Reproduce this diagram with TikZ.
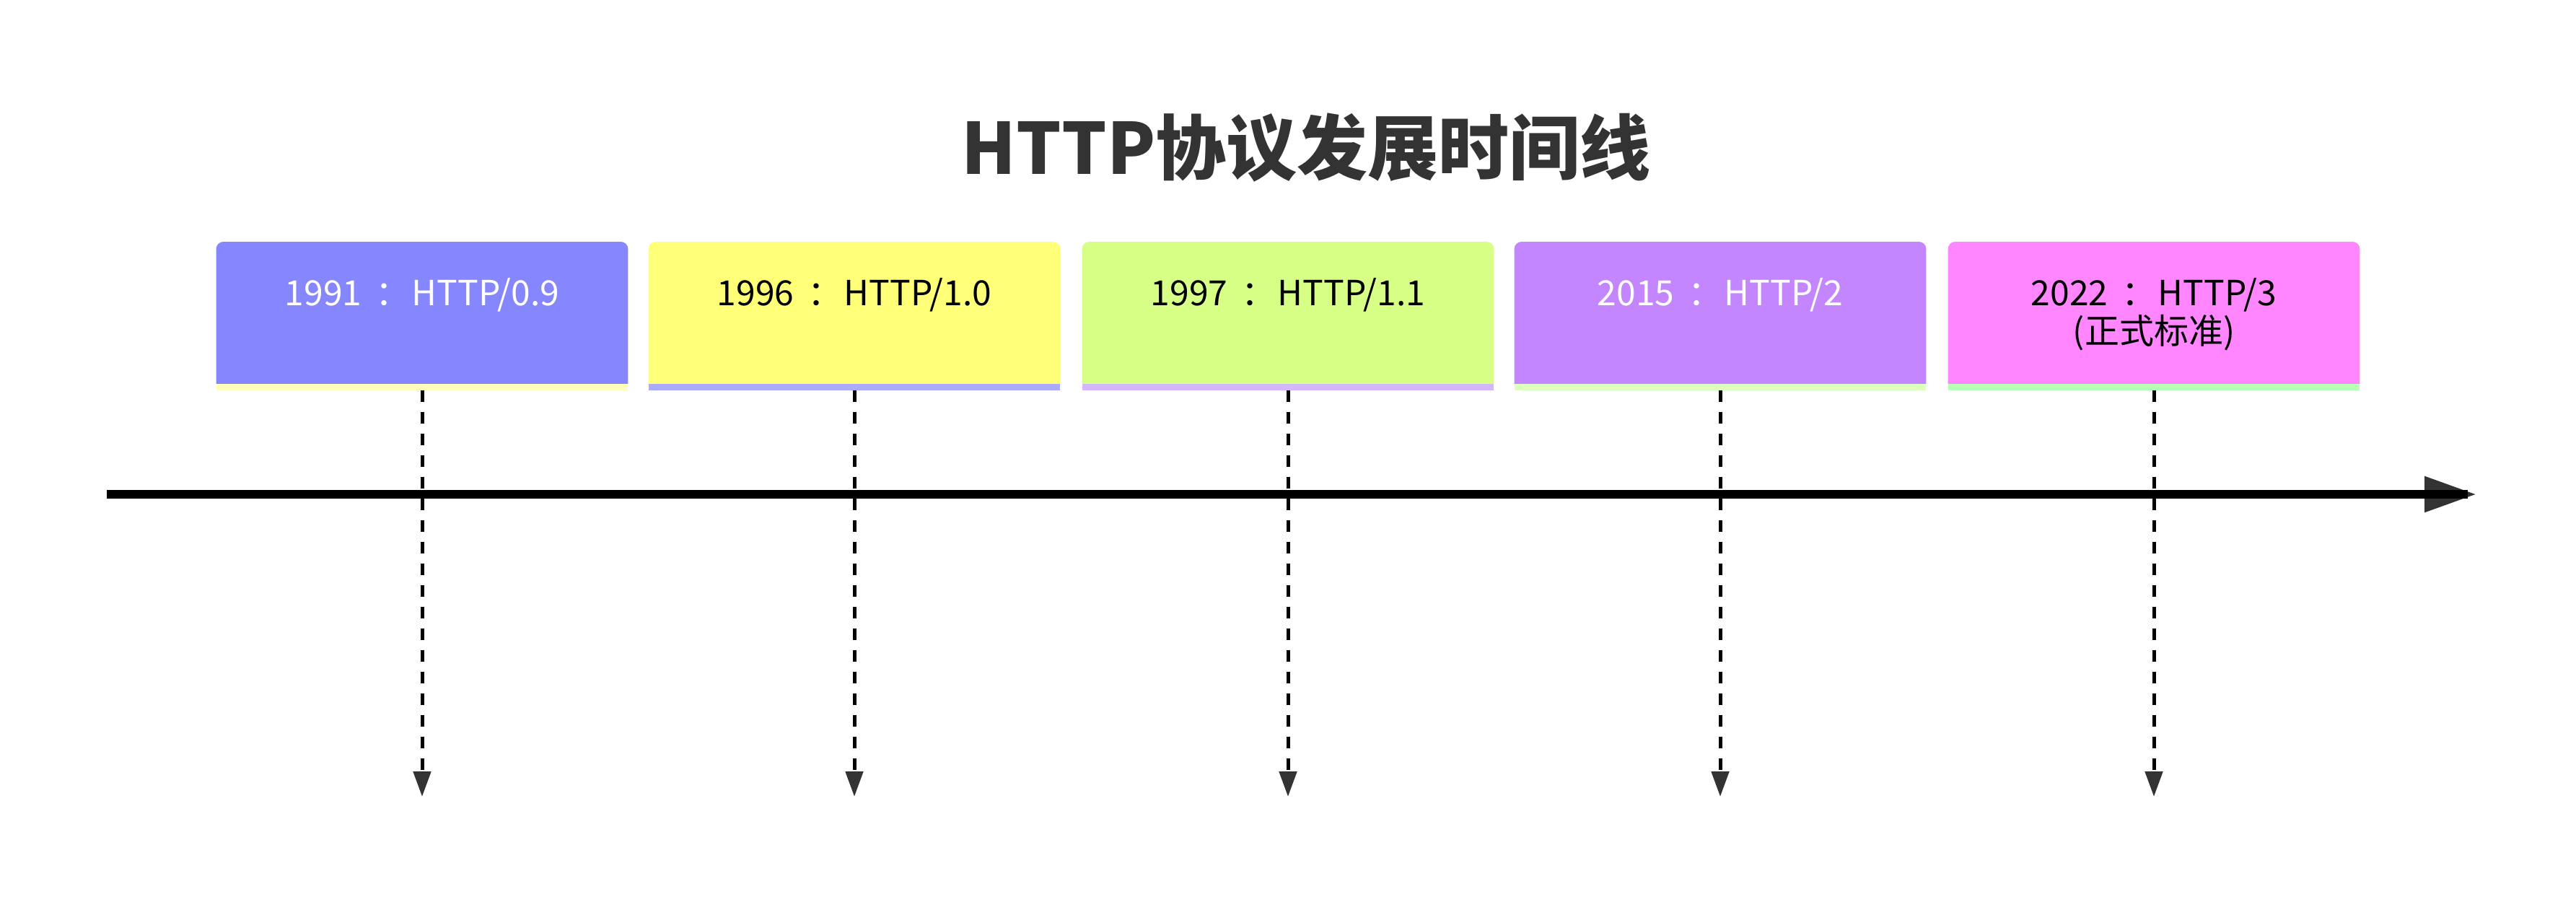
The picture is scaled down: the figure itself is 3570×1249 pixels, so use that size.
\documentclass[tikz,border=0pt]{standalone}
\usepackage{fontspec}
\usetikzlibrary{arrows.meta}
\newfontfamily\cjk{Noto Sans CJK SC}
\definecolor{c1}{HTML}{8686FF}
\definecolor{c2}{HTML}{FFFF78}
\definecolor{c3}{HTML}{D7FF86}
\definecolor{c4}{HTML}{C386FF}
\definecolor{c5}{HTML}{FF86FF}
\definecolor{s1}{HTML}{FFFFBB}
\definecolor{s2}{HTML}{AAAAFF}
\definecolor{s3}{HTML}{D4B8FF}
\definecolor{s4}{HTML}{DDFFC0}
\definecolor{s5}{HTML}{B8FFB8}
\definecolor{dk}{HTML}{333333}
\newcommand{\cl}{\kern4pt：\kern-4pt\ }
\tikzset{
  evbox/.style={minimum width=285pt, minimum height=102.5pt, inner sep=0pt, anchor=north},
  lbl/.style={font=\cjk\fontsize{24}{26.5}\selectfont, inner sep=0pt, align=center, anchor=base},
  mainline/.style={line width=6pt, black},
  dropline/.style={line width=2.5pt, black, dash pattern=on 8pt off 7pt,
    -{Triangle[length=17.5pt,width=12pt,color=dk]}},
}
\newcommand{\evfill}[3]{%
  \fill[#2] ([yshift=4.5pt]#1.south west) [rounded corners=5pt] -- (#1.north west) -- (#1.north east) [sharp corners] -- ([yshift=4.5pt]#1.south east) -- cycle;
  \fill[#3] (#1.south west) rectangle ([yshift=4.5pt]#1.south east);
}
\begin{document}
\begin{tikzpicture}[x=0.5pt,y=-0.5pt]
\fill[white] (0,0) rectangle (3570,1249);
\useasboundingbox (0,0) rectangle (3570,1249);

\node[font=\cjk\bfseries\fontsize{49}{54}\selectfont, text=dk, inner sep=0pt] (title) at (1810,205) {HTTP协议发展时间线};

\node[evbox] (b1) at (585,335) {};
\node[evbox] (b2) at (1184,335) {};
\node[evbox] (b3) at (1785,335) {};
\node[evbox] (b4) at (2384,335) {};
\node[evbox] (b5) at (2985,335) {};
\evfill{b1}{c1}{s1}
\evfill{b2}{c2}{s2}
\evfill{b3}{c3}{s3}
\evfill{b4}{c4}{s4}
\evfill{b5}{c5}{s5}

\node[lbl, text=white] (t1) at (585,423) {1991 \cl HTTP/0.9};
\node[lbl, text=black] (t2) at (1184,423) {1996 \cl HTTP/1.0};
\node[lbl, text=black] (t3) at (1785,423) {1997 \cl HTTP/1.1};
\node[lbl, text=white] (t4) at (2384,423) {2015 \cl HTTP/2};
\node[lbl, text=black] (t5) at (2985,476) {2022 \cl HTTP/3\\(正式标准)};

\coordinate (a0) at (148,685);
\coordinate (a1) at (3432,685);
\draw[mainline, -{Triangle[length=36pt,width=23.5pt,color=dk]}] (a0) -- (a1);
\draw[mainline] (a0) -- ([xshift=-6pt]a1);

\coordinate (e1) at (585,1104);
\coordinate (e2) at (1184,1104);
\coordinate (e3) at (1785,1104);
\coordinate (e4) at (2384,1104);
\coordinate (e5) at (2985,1104);
\draw[dropline] (b1.south) -- (e1);
\draw[dropline] (b2.south) -- (e2);
\draw[dropline] (b3.south) -- (e3);
\draw[dropline] (b4.south) -- (e4);
\draw[dropline] (b5.south) -- (e5);
\end{tikzpicture}
\end{document}
